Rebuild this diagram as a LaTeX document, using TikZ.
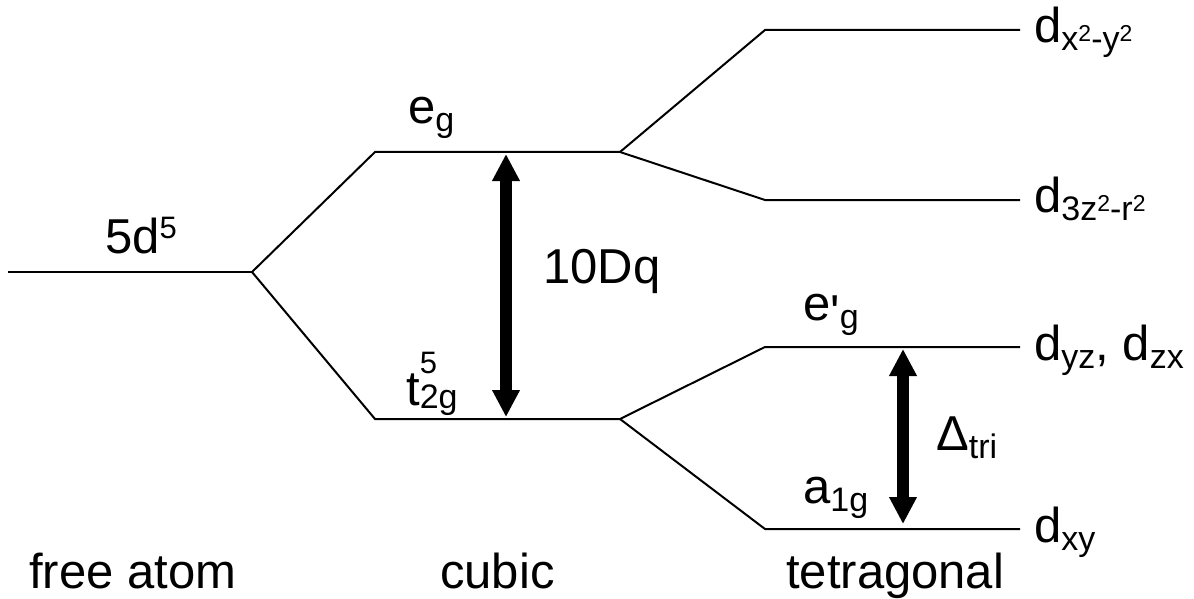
\documentclass[tikz,border=0pt]{standalone}
\usepackage{fontspec}
\setmainfont{Liberation Sans}
\newfontfamily\noligs{Liberation Sans}
\usetikzlibrary{arrows.meta}
\newcommand\lsub[1]{\raisebox{-8pt}{\fontsize{34}{34}\selectfont #1}}
\newcommand\lsup[1]{\raisebox{15pt}{\fontsize{31}{31}\selectfont #1}}
\newcommand\ssup[1]{\raisebox{9pt}{\fontsize{23}{23}\selectfont #1}}
\tikzset{
  level/.style={line width=2pt},
  gap/.style={line width=12pt, {Triangle[length=27pt,width=26pt]}-{Triangle[length=27pt,width=26pt]}},
  lab/.style={anchor=base west, inner sep=0pt, font=\fontsize{49}{59}\selectfont},
}
\begin{document}
\begin{tikzpicture}[x=1pt,y=-1pt]
\useasboundingbox (0,0) rectangle (1194,599);
% coordinates
\coordinate (fa0) at (8,272);
\coordinate (fa1) at (252,272);
\coordinate (eg0) at (375,152);
\coordinate (eg1) at (620,152);
\coordinate (tg0) at (375,419);
\coordinate (tg1) at (620,419);
\coordinate (xy20) at (765,30);
\coordinate (xy21) at (1020,30);
\coordinate (z20) at (765,200);
\coordinate (z21) at (1020,200);
\coordinate (yz0) at (765,347);
\coordinate (yz1) at (1020,347);
\coordinate (xy0) at (765,529);
\coordinate (xy1) at (1020,529);
% levels
\draw[level] (fa0) -- (fa1);
\draw[level] (fa1) -- (eg0) -- (eg1);
\draw[level] (fa1) -- (tg0) -- (tg1);
\draw[level] (eg1) -- (xy20) -- (xy21);
\draw[level] (eg1) -- (z20) -- (z21);
\draw[level] (tg1) -- (yz0) -- (yz1);
\draw[level] (tg1) -- (xy0) -- (xy1);
% arrows
\coordinate (dqt) at (506,154);
\coordinate (dqb) at (506,417);
\coordinate (trt) at (903,349);
\coordinate (trb) at (903,524);
\draw[gap] (dqt) -- (dqb);
\draw[gap] (trt) -- (trb);
% labels
\node[lab] (l5d) at (105,253) {5d\lsup{5}};
\node[lab] (leg) at (408,124) {e\lsub{g}};
\node[lab] (ldq) at (543,283) {10Dq};
\node[lab] (lt2g) at (406,405) {t\makebox[0pt][l]{\raisebox{32pt}{\fontsize{31}{31}\selectfont 5}}\raisebox{-3pt}{\fontsize{34}{34}\selectfont 2g}};
\node[lab] (lepg) at (803,320) {e\raisebox{-9pt}{\noligs '}\lsub{g}};
\node[lab] (la1g) at (803,503) {a\lsub{1g}};
\node[lab] (ldt) at (936,450) {Δ\lsub{tri}};
\node[lab] (dx2) at (1034,43) {d\lsub{x\ssup{2}-y\ssup{2}}};
\node[lab] (dz2) at (1034,212) {d\lsub{3z\ssup{2}-r\ssup{2}}};
\node[lab] (dyz) at (1034,360) {d\lsub{yz}, d\lsub{zx}};
\node[lab] (dxy) at (1034,542) {d\lsub{xy}};
\node[lab] (lfree) at (29,588) {free atom};
\node[lab] (lcub) at (440,588) {cubic};
\node[lab] (ltet) at (786,588) {tetragonal};
\end{tikzpicture}
\end{document}
